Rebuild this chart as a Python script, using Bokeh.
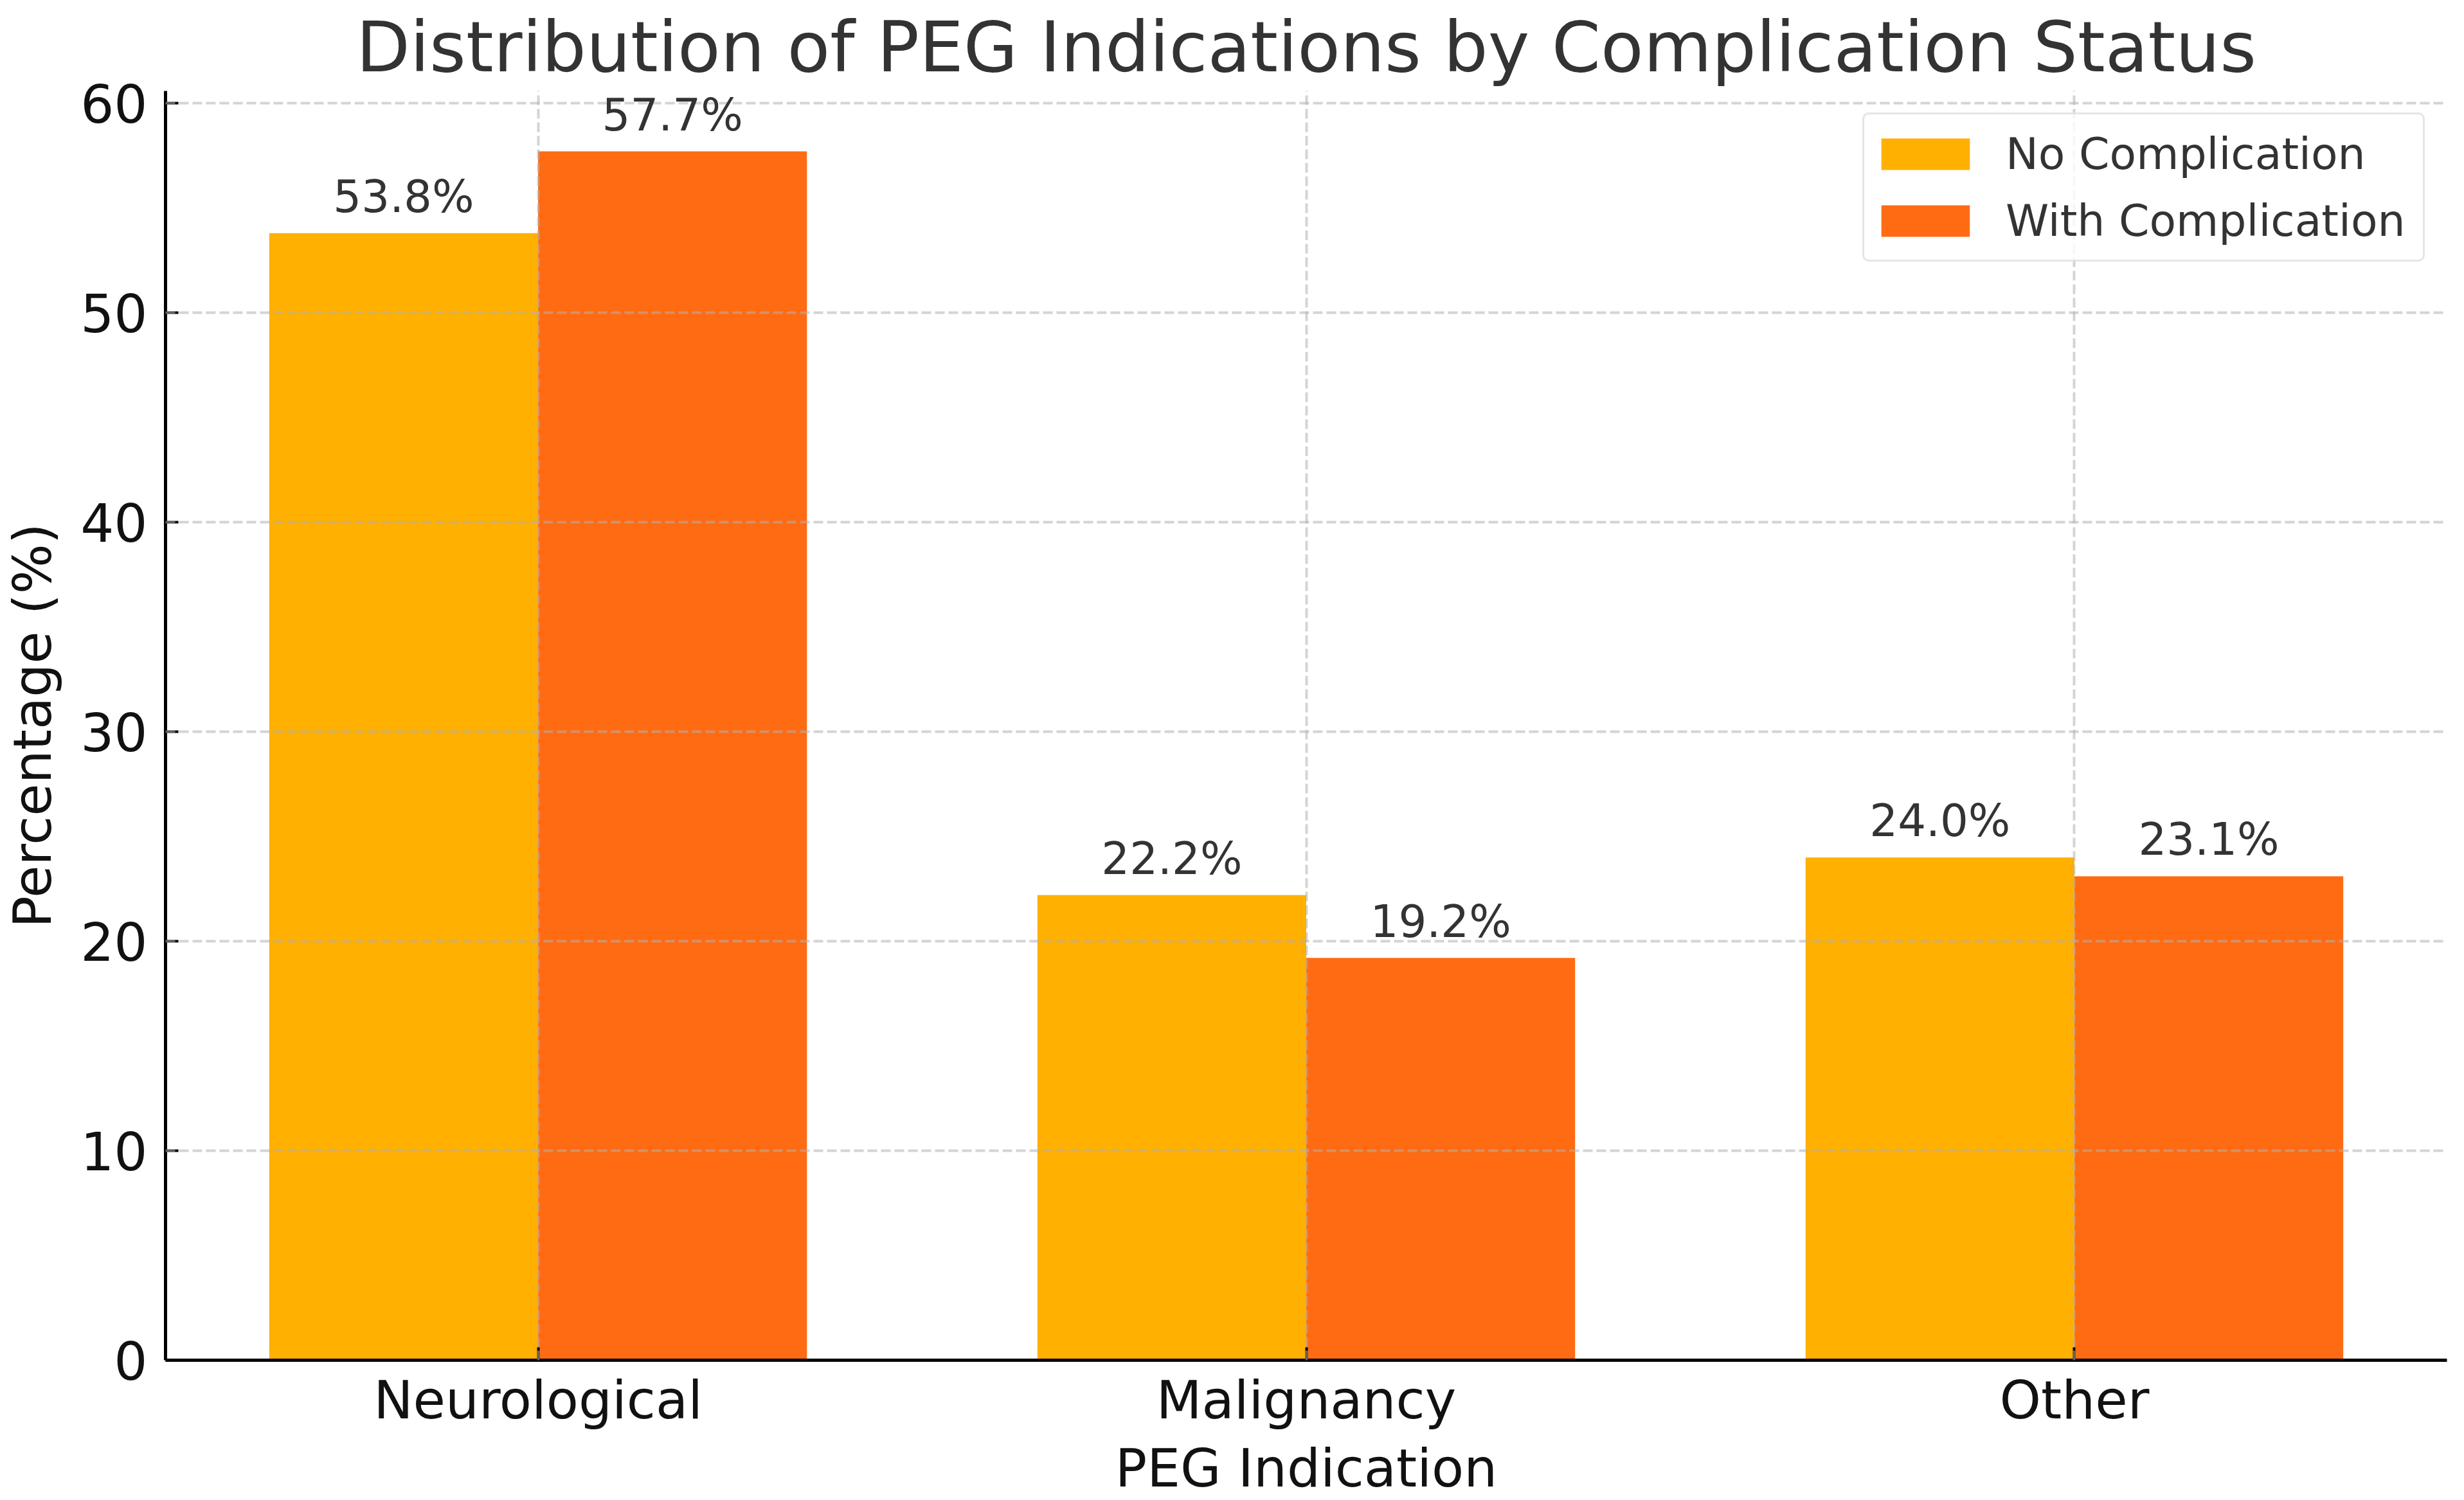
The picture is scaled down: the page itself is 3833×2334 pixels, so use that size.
from bokeh.plotting import figure
from bokeh.models import Range1d, FixedTicker, ColumnDataSource, Legend, LegendItem, LabelSet
from bokeh.transform import dodge
from bokeh.core.properties import value
from bokeh.embed import file_html
from bokeh.resources import INLINE

# ---- data ----
categories = ["Neurological", "Malignancy", "Other"]
no_complication = [53.8, 22.2, 24.0]
with_complication = [57.7, 19.2, 23.1]
series_names = ["No Complication", "With Complication"]
y_ticks = [0, 10, 20, 30, 40, 50, 60]

title_text = "Distribution of PEG Indications by Complication Status"
x_label = "PEG Indication"
y_label = "Percentage (%)"

# ---- style ----
FONT = "DejaVu Sans"
COLORS = ["#FFB000", "#FF6B13"]
BAR_W = 0.35

idx = list(range(len(categories)))
src = ColumnDataSource(dict(
    idx=idx,
    no=no_complication,
    with_=with_complication,
    no_lbl=[f"{v:.1f}%" for v in no_complication],
    with_lbl=[f"{v:.1f}%" for v in with_complication],
))

ymax = max(no_complication + with_complication) * 1.05
pad = BAR_W + 0.05 * (len(categories) - 1 + 2 * BAR_W)

p = figure(
    frame_width=3549, frame_height=1975,
    min_border_left=249, min_border_right=19, min_border_top=141, min_border_bottom=202,
    output_backend="svg", toolbar_location=None,
    x_range=Range1d(-pad, len(categories) - 1 + pad),
    y_range=Range1d(0, ymax),
    background_fill_color="white", border_fill_color="white",
)
p.outline_line_color = None

# title
p.title.text = title_text
p.title.align = "center"
p.title.text_font = FONT
p.title.text_font_size = "109px"
p.title.text_font_style = "normal"
p.title.text_color = "#333333"
p.title.standoff = 10

# bars
r_no = p.vbar(x=dodge("idx", -BAR_W / 2, range=p.x_range), top="no", width=BAR_W,
              source=src, fill_color=COLORS[0], line_color=None)
r_with = p.vbar(x=dodge("idx", BAR_W / 2, range=p.x_range), top="with_", width=BAR_W,
                source=src, fill_color=COLORS[1], line_color=None)

# value labels
for col, lbl, off in [("no", "no_lbl", -BAR_W / 2), ("with_", "with_lbl", BAR_W / 2)]:
    ls = LabelSet(x=dodge("idx", off, range=p.x_range), y=col, text=lbl, source=src,
                  text_align="center", text_baseline="alphabetic", y_offset=33,
                  text_font=value(FONT), text_font_size=value("69px"),
                  text_color=value("#333333"))
    p.add_layout(ls)

# axes
p.xaxis.ticker = FixedTicker(ticks=idx)
p.xaxis.major_label_overrides = {i: c for i, c in enumerate(categories)}
p.yaxis.ticker = FixedTicker(ticks=y_ticks)
p.xaxis.axis_label = x_label
p.yaxis.axis_label = y_label
for ax in (p.xaxis, p.yaxis):
    ax.axis_line_color = "black"
    ax.axis_line_width = 5
    ax.major_tick_in = 20
    ax.major_tick_out = 0
    ax.major_tick_line_width = 4
    ax.major_tick_line_color = "black"
    ax.minor_tick_line_color = None
    ax.major_label_text_font = FONT
    ax.major_label_text_font_size = "82px"
    ax.major_label_text_color = "#111111"
    ax.axis_label_text_font = FONT
    ax.axis_label_text_font_size = "82px"
    ax.axis_label_text_font_style = "normal"
    ax.axis_label_text_color = "#111111"
p.xaxis.major_label_standoff = 14
p.xaxis.axis_label_standoff = 8
p.yaxis.major_label_standoff = 28
p.yaxis.axis_label_standoff = 24
p.yaxis.major_label_orientation = "horizontal"

# grid (drawn over the bars, as in the reference)
p.grid.grid_line_color = "#b0b0b0"
p.grid.grid_line_alpha = 0.55
p.grid.grid_line_dash = "15 6"
p.grid.grid_line_width = 4
p.xgrid.ticker = FixedTicker(ticks=idx)
p.ygrid.ticker = FixedTicker(ticks=y_ticks)
p.xgrid.level = "guide"
p.ygrid.level = "guide"

# legend
legend = Legend(items=[LegendItem(label=series_names[0], renderers=[r_no]),
                       LegendItem(label=series_names[1], renderers=[r_with])],
                location="top_right")
legend.margin = 34
legend.padding = 9
legend.spacing = 0
legend.glyph_width = 172
legend.glyph_height = 61
legend.label_standoff = 39
legend.label_width = 640
legend.label_height = 104
legend.label_text_font = FONT
legend.label_text_font_size = "68px"
legend.label_text_color = "#333333"
legend.border_line_color = "#cccccc"
legend.border_line_width = 3
legend.background_fill_alpha = 0.8
if "border_radius" in Legend.properties():
    legend.border_radius = 10
p.add_layout(legend)

open("out.html", "w").write(file_html(p, INLINE))
